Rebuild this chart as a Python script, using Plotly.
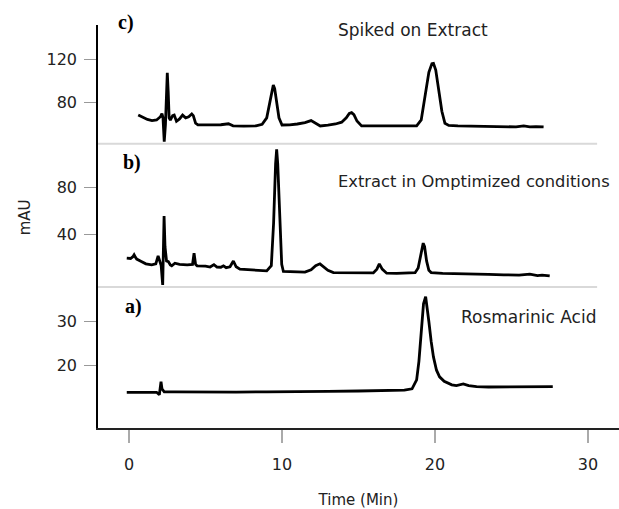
import plotly.graph_objects as go

# ---- data ----
# c) Spiked on Extract
time_c = [0.6, 0.9, 1.2, 1.5, 1.8, 2.05, 2.15, 2.22, 2.3, 2.38, 2.45, 2.5, 2.56, 2.62, 2.7,
          2.85, 2.95, 3.1, 3.3, 3.5, 3.7, 3.9, 4.1, 4.2, 4.35, 4.5, 5.0, 5.5, 6.0, 6.5, 6.8,
          7.5, 8.3, 8.7, 9.0, 9.2, 9.35, 9.43, 9.52, 9.65, 9.8, 10.0, 10.5, 11.0, 11.5, 11.9,
          12.2, 12.5, 13.0, 13.5, 13.9, 14.2, 14.4, 14.55, 14.7, 14.9, 15.2, 16.0, 17.0, 18.0,
          18.8, 19.1, 19.35, 19.6, 19.8, 19.9, 20.05, 20.25, 20.45, 20.65, 20.9, 21.5, 22.5,
          23.5, 24.5, 25.3, 25.8, 26.2, 26.6, 27.1]
mau_c = [68.7, 66.5, 64.5, 63.5, 64.0, 67.0, 70.0, 66.0, 44.0, 60.0, 100.0, 107.6, 90.0, 66.0, 64.0,
         68.0, 68.5, 62.8, 65.0, 68.5, 66.0, 67.0, 69.5, 68.0, 61.0, 59.5, 59.4, 59.2, 59.6, 60.5, 58.6,
         58.4, 58.5, 60.0, 66.0, 80.0, 92.0, 96.3, 93.0, 80.0, 66.0, 59.4, 59.5, 60.3, 61.5, 63.4,
         61.0, 58.5, 59.2, 60.3, 62.0, 66.0, 70.0, 70.8, 69.0, 63.0, 58.5, 58.4, 58.6, 58.3,
         58.6, 64.0, 85.0, 108.0, 116.0, 116.3, 110.0, 92.0, 72.0, 61.0, 59.0, 58.6, 58.3,
         58.0, 57.8, 57.6, 58.5, 57.6, 57.9, 57.6]

# b) Extract in optimized conditions
time_b = [-0.15, 0.1, 0.25, 0.33, 0.42, 0.5, 0.8, 1.1, 1.48, 1.75, 1.9, 2.0, 2.1, 2.2, 2.24, 2.29,
          2.35, 2.45, 2.57, 2.7, 2.79, 3.0, 3.3, 3.8, 4.15, 4.25, 4.35, 4.45, 5.0, 5.3, 5.55, 5.75,
          6.0, 6.17, 6.35, 6.6, 6.82, 7.0, 7.25, 8.0, 8.7, 9.0, 9.3, 9.45, 9.58, 9.65, 9.72, 9.85,
          9.98, 10.09, 11.0, 11.5, 11.9, 12.2, 12.48, 12.75, 13.0, 13.36, 14.5, 15.5, 15.97, 16.2,
          16.36, 16.55, 16.84, 17.5, 18.2, 18.7, 18.9, 19.05, 19.15, 19.23, 19.32, 19.45, 19.6,
          19.75, 20.5, 21.5, 22.5, 23.5, 24.5, 25.5, 26.2, 26.7, 27.0, 27.5]
mau_b = [20.3, 20.0, 21.5, 23.1, 21.0, 19.5, 17.5, 15.5, 14.6, 15.5, 22.2, 18.0, 14.0, -2.3, 20.0, 56.0,
         30.0, 18.0, 17.4, 14.5, 13.8, 16.0, 15.0, 14.6, 15.0, 24.5, 15.0, 13.8, 13.5, 12.8, 14.8, 12.8,
         12.6, 13.8, 12.2, 13.0, 17.9, 13.0, 11.0, 10.3, 9.5, 9.5, 14.0, 50.0, 100.0, 112.4, 100.0, 50.0,
         15.0, 9.0, 9.0, 8.5, 10.5, 14.0, 15.5, 13.0, 10.0, 8.1, 8.0, 7.8, 7.8, 11.0,
         15.5, 11.0, 7.6, 7.5, 8.0, 8.0, 12.0, 22.0, 31.0, 33.0, 30.0, 18.0, 10.0,
         8.1, 7.5, 7.0, 6.8, 6.5, 6.2, 6.0, 6.7, 5.6, 6.0, 5.3]

# a) Rosmarinic acid standard
time_a = [-0.15, 1.0, 1.8, 1.98, 2.04, 2.09, 2.15, 2.3, 3.0, 5.0, 7.0, 9.0, 11.0, 13.0, 15.0, 17.0,
          18.0, 18.5, 18.8, 18.95, 19.1, 19.25, 19.39, 19.5, 19.6, 19.75, 19.9, 20.1, 20.3, 20.6,
          20.85, 21.1, 21.4, 21.85, 22.2, 22.72, 23.5, 24.25, 25.5, 26.5, 27.7]
mau_a = [14.0, 14.0, 14.0, 13.45, 15.5, 16.4, 14.8, 14.1, 14.1, 14.0, 14.05, 14.1, 14.1, 14.2, 14.3, 14.4,
         14.5, 14.8, 16.8, 21.0, 28.0, 34.0, 35.6, 33.0, 30.0, 25.5, 22.0, 19.0, 17.5, 16.5,
         16.1, 15.7, 15.5, 15.9, 15.5, 15.3, 15.2, 15.2, 15.2, 15.3, 15.3]

x_ticks = [0, 10, 20, 30]
c_ticks = [80, 120]
b_ticks = [40, 80]
a_ticks = [20, 30]

panel_labels = ["c)", "b)", "a)"]
panel_titles = ["Spiked on Extract", "Extract in Omptimized conditions", "Rosmarinic Acid"]
title_sizes = [17, 16.3, 17]

# ---- figure ----
LINE = dict(color="black", width=2.8)
fig = go.Figure()
fig.add_trace(go.Scatter(x=time_c, y=mau_c, mode="lines", line=LINE, xaxis="x", yaxis="y3", showlegend=False))
fig.add_trace(go.Scatter(x=time_b, y=mau_b, mode="lines", line=LINE, xaxis="x", yaxis="y2", showlegend=False))
fig.add_trace(go.Scatter(x=time_a, y=mau_a, mode="lines", line=LINE, xaxis="x", yaxis="y", showlegend=False))

TICKFONT = dict(family="DejaVu Sans", size=16, color="#222")
yax_common = dict(showline=True, linecolor="black", linewidth=1.5, ticks="outside", ticklen=12,
                  tickcolor="#999", tickwidth=1, showgrid=False, zeroline=False, tickfont=TICKFONT,
                  anchor="x", ticklabelstandoff=4)

D_A = [0.0, 0.3496]
D_B = [0.3496, 0.7054]
D_C = [0.7054, 1.0]

fig.update_layout(
    width=619, height=509,
    margin=dict(l=98, r=0, t=25, b=81),
    paper_bgcolor="white", plot_bgcolor="white",
    xaxis=dict(range=[-2.03, 32.03], showline=True, linecolor="#222", linewidth=1.5,
               ticks="outside", ticklen=13, tickcolor="#aaa", tickwidth=1.5, tickvals=x_ticks,
               showgrid=False, zeroline=False, tickfont=TICKFONT, anchor="y", ticklabelstandoff=8,
               title=dict(text="Time (Min)", font=dict(family="DejaVu Sans", size=15, color="#222"),
                          standoff=24)),
    yaxis=dict(domain=D_A, range=[5.94, 37.77], tickvals=a_ticks, **yax_common),
    yaxis2=dict(domain=D_B, range=[-4.2, 117.1], tickvals=b_ticks, **yax_common),
    yaxis3=dict(domain=D_C, range=[42.1, 151.6], tickvals=c_ticks, **yax_common),
)

# separators between panels
for yb in [D_A[1], D_B[1]]:
    fig.add_shape(type="line", xref="paper", yref="paper", x0=0, x1=0.958, y0=yb, y1=yb,
                  line=dict(color="#d9d9d9", width=2))

# panel letters
SERIF = dict(family="Liberation Serif", size=20, color="black")
for lab, xp, yp in zip(panel_labels, [0.0537, 0.065, 0.068], [1.005, 0.658, 0.3008]):
    fig.add_annotation(text="<b>" + lab + "</b>", xref="paper", yref="paper", x=xp, y=yp,
                       xanchor="center", yanchor="middle", showarrow=False, font=SERIF)

# panel titles
for t, sz, xp, yp in zip(panel_titles, title_sizes, [0.4568, 0.4568, 0.693], [0.9876, 0.6107, 0.276]):
    fig.add_annotation(text=t, xref="paper", yref="paper", x=xp, y=yp, xanchor="left",
                       yanchor="middle", showarrow=False,
                       font=dict(family="DejaVu Sans", size=sz, color="#222"))

# y title
fig.add_annotation(text="mAU", xref="paper", yref="paper", x=-0.141, y=0.5215, textangle=-90,
                   xanchor="center", yanchor="middle", showarrow=False,
                   font=dict(family="DejaVu Sans", size=15, color="#222"))

fig.write_html("out.html", config={"displayModeBar": False},
               post_script="document.body.style.margin='0px';document.body.style.overflow='hidden';")
